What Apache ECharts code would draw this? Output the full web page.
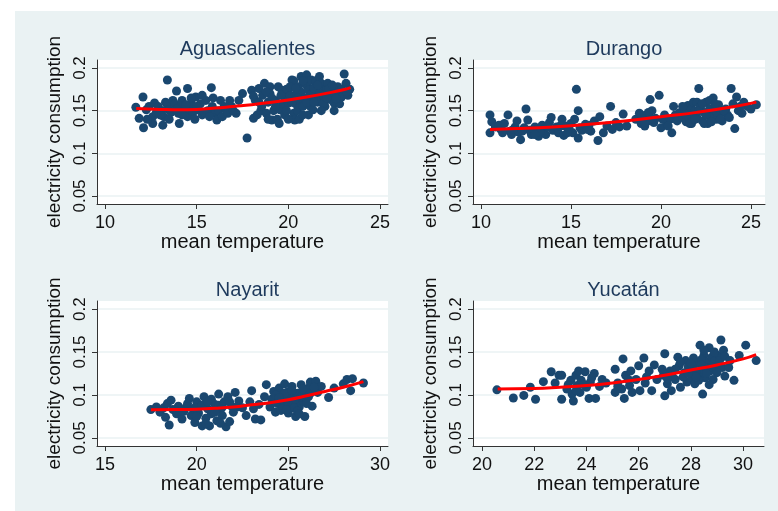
<!DOCTYPE html>
<html>
<head>
<meta charset="utf-8">
<script src="https://cdn.jsdelivr.net/npm/echarts@6/dist/echarts.min.js"></script>
<style>
html,body{margin:0;padding:0;background:#ffffff;}
#chart{width:778px;height:511px;}
</style>
</head>
<body>
<div id="chart"></div>
<script>
// ---------- DATA ----------
const panelTitles = ["Aguascalientes", "Durango", "Nayarit", "Yucatán"];
const yName = "electricity consumption";
const xName = "mean temperature";
const yTicks = [0.05, 0.1, 0.15, 0.2];
const xTicksAgs = [10, 15, 20, 25];
const xTicksDgo = [10, 15, 20, 25];
const xTicksNay = [15, 20, 25, 30];
const xTicksYuc = [20, 22, 24, 26, 28, 30];

const aguascalientesPts = [
[11.68,0.154],[11.86,0.141],[12.07,0.166],[12.1,0.130],[12.25,0.151],[12.4,0.155],[12.6,0.143],[12.6,0.135],[12.7,0.159],[12.9,0.155],
[13.1,0.150],[13.15,0.133],[13.2,0.143],[13.3,0.160],[13.4,0.186],[13.4,0.157],[13.5,0.151],[13.6,0.148],[13.7,0.162],[13.8,0.158],
[13.9,0.173],[14.0,0.147],[14.05,0.135],[14.1,0.155],[14.2,0.162],[14.3,0.150],[14.5,0.176],[14.5,0.143],[14.6,0.152],[14.7,0.159],
[14.8,0.148],[14.9,0.140],[14.95,0.166],[15.1,0.151],[15.2,0.158],[15.3,0.145],[15.5,0.162],[15.6,0.150],[15.8,0.177],[15.85,0.155],
[15.9,0.165],[16.0,0.147],[16.1,0.139],[16.2,0.150],[16.3,0.162],[16.4,0.143],[16.6,0.151],[16.8,0.162],[16.9,0.155],[17.15,0.147],
[17.5,0.170],[17.75,0.118],[18.0,0.174],[18.1,0.141],[18.2,0.162],[18.3,0.145],[18.4,0.176],[18.5,0.150],[18.55,0.155],[18.6,0.168],
[18.7,0.182],[18.8,0.147],[18.9,0.160],[19.0,0.170],[19.0,0.178],[19.1,0.139],[19.2,0.150],[19.3,0.162],[19.4,0.140],[19.45,0.178],
[19.55,0.151],[19.65,0.174],[19.7,0.158],[19.8,0.166],[19.8,0.145],[19.9,0.175],[20.0,0.159],[20.1,0.168],[20.2,0.186],[20.3,0.147],
[20.3,0.185],[20.35,0.139],[20.4,0.158],[20.45,0.170],[20.5,0.150],[20.55,0.178],[20.6,0.162],[20.6,0.140],[20.7,0.190],[20.7,0.172],
[20.8,0.155],[20.9,0.182],[20.9,0.165],[21.0,0.192],[21.0,0.180],[21.1,0.174],[21.1,0.145],[21.15,0.162],[21.2,0.155],[21.25,0.186],
[21.3,0.170],[21.35,0.151],[21.45,0.178],[21.5,0.185],[21.6,0.166],[21.6,0.160],[21.7,0.190],[21.8,0.174],[21.8,0.182],[21.9,0.168],
[22.0,0.162],[22.0,0.155],[22.1,0.176],[22.15,0.182],[22.3,0.163],[22.35,0.170],[22.5,0.159],[22.6,0.172],[22.7,0.178],[22.8,0.158],
[22.9,0.166],[23.05,0.193],[23.15,0.182],[23.25,0.168],[23.35,0.175],
[13.0,0.145],[13.5,0.140],[13.9,0.152],[14.2,0.145],[14.4,0.157],[15.0,0.155],[15.4,0.148],[15.7,0.143],[16.5,0.155],[12.8,0.148],
[12.3,0.140],[14.7,0.165],[15.3,0.168],[16.7,0.147],[17.3,0.162],[17.0,0.150],[18.1,0.167],[18.4,0.160],[18.8,0.172],[19.1,0.165],
[19.3,0.155],[19.6,0.168],[19.9,0.150],[20.1,0.178],[20.2,0.160],[20.4,0.176],[20.5,0.165],[20.8,0.185],[20.8,0.145],[21.0,0.160],
[21.2,0.168],[21.4,0.176],[21.4,0.160],[21.6,0.180],[21.7,0.170],[21.9,0.158],[22.1,0.165],[22.2,0.175],[22.4,0.180],[22.6,0.164],
[22.9,0.175],[23.2,0.172],[20.0,0.140],[19.5,0.135],[18.9,0.140],[21.8,0.150],[22.5,0.150]
];
const aguascalientesFitX = [11.7, 13, 14, 15, 16, 17, 18, 19, 20, 21, 22, 23, 23.4];
const aguascalientesFitY = [0.1525, 0.1515, 0.151, 0.1515, 0.153, 0.155, 0.157, 0.1595, 0.1625, 0.166, 0.170, 0.1745, 0.177];

const durangoPts = [
[10.5,0.145],[10.5,0.124],[10.6,0.137],[10.8,0.131],[11.0,0.133],[11.1,0.128],[11.3,0.135],[11.5,0.145],[11.6,0.126],[11.7,0.122],
[11.9,0.131],[12.0,0.138],[12.1,0.125],[12.2,0.116],[12.4,0.130],[12.5,0.152],[12.6,0.139],[12.7,0.127],[12.8,0.122],[13.0,0.131],
[13.1,0.126],[13.2,0.120],[13.4,0.133],[13.5,0.128],[13.6,0.122],[13.8,0.136],[13.9,0.142],[14.0,0.127],[14.2,0.131],[14.3,0.124],
[14.5,0.140],[14.6,0.121],[14.7,0.132],[14.9,0.128],[15.0,0.135],[15.1,0.124],[15.2,0.140],[15.3,0.175],[15.4,0.150],[15.4,0.118],
[15.5,0.130],[15.6,0.127],[15.8,0.134],[16.1,0.126],[16.3,0.138],[16.5,0.115],[16.6,0.143],[16.8,0.124],[17.0,0.132],[17.2,0.155],
[17.3,0.128],[17.5,0.136],[17.7,0.131],[17.9,0.146],[18.1,0.132],[18.6,0.140],[18.8,0.147],[18.9,0.135],[19.0,0.142],[19.1,0.132],
[19.2,0.145],[19.3,0.138],[19.4,0.163],[19.5,0.150],[19.6,0.136],[19.7,0.141],[19.9,0.168],[20.0,0.130],[20.2,0.145],[20.3,0.137],
[20.5,0.140],[20.6,0.124],[20.7,0.155],[20.8,0.145],[20.9,0.138],[21.0,0.147],[21.1,0.148],[21.2,0.142],[21.3,0.152],[21.4,0.137],
[21.5,0.156],[21.6,0.145],[21.7,0.135],[21.7,0.152],[21.8,0.160],[21.9,0.150],[22.0,0.142],[22.0,0.160],[22.1,0.176],[22.2,0.155],
[22.3,0.138],[22.4,0.148],[22.5,0.160],[22.6,0.135],[22.6,0.145],[22.7,0.152],[22.8,0.143],[22.9,0.165],[23.0,0.150],[23.1,0.140],
[23.2,0.157],[23.3,0.147],[23.4,0.138],[23.6,0.152],[23.7,0.145],[23.9,0.176],[24.0,0.158],[24.1,0.129],[24.2,0.166],[24.3,0.150],
[24.5,0.147],[24.8,0.155],[25.0,0.152],[25.3,0.157],
[21.2,0.155],[21.4,0.145],[21.6,0.135],[21.9,0.140],[22.1,0.150],[22.3,0.158],[22.4,0.135],[22.5,0.145],[22.7,0.162],[22.8,0.137],
[23.0,0.158],[23.1,0.148],[23.3,0.140],[23.5,0.150],[23.8,0.142],[24.4,0.155],[24.6,0.160],[19.3,0.148],[19.5,0.140],[19.1,0.137],
[18.9,0.145],[20.1,0.140],[20.4,0.132],[11.2,0.124],[12.3,0.126],[12.9,0.128],[13.3,0.126],[13.7,0.131],[14.4,0.132],[14.8,0.124],
[16.0,0.133],[15.9,0.128],[11.8,0.128],[13.0,0.122]
];
const durangoFitX = [10.5, 12, 14, 16, 18, 20, 22, 24, 25.3];
const durangoFitY = [0.128, 0.129, 0.131, 0.134, 0.138, 0.143, 0.148, 0.1545, 0.160];

const nayaritPts = [
[17.5,0.083],[17.8,0.086],[18.0,0.080],[18.2,0.085],[18.3,0.074],[18.4,0.090],[18.5,0.065],[18.6,0.094],[18.7,0.083],[18.9,0.078],
[19.0,0.087],[19.2,0.072],[19.3,0.081],[19.4,0.085],[19.5,0.090],[19.6,0.096],[19.7,0.076],[19.8,0.084],[19.9,0.068],[20.0,0.092],
[20.1,0.079],[20.2,0.087],[20.3,0.064],[20.4,0.098],[20.5,0.073],[20.6,0.084],[20.7,0.064],[20.8,0.095],[20.8,0.078],[20.9,0.080],
[21.0,0.089],[21.1,0.070],[21.2,0.101],[21.2,0.088],[21.3,0.083],[21.4,0.076],[21.5,0.092],[21.6,0.063],[21.7,0.098],[21.8,0.069],
[21.9,0.087],[22.0,0.080],[22.1,0.103],[22.3,0.093],[22.5,0.085],[22.7,0.076],[22.9,0.092],[23.0,0.105],[23.1,0.084],[23.2,0.072],
[23.4,0.089],[23.5,0.071],[23.7,0.098],[23.8,0.112],[24.0,0.086],[24.1,0.095],[24.2,0.104],[24.2,0.095],[24.3,0.080],[24.4,0.090],
[24.5,0.108],[24.6,0.099],[24.6,0.082],[24.7,0.085],[24.8,0.113],[24.9,0.093],[25.0,0.079],[25.0,0.104],[25.1,0.088],[25.1,0.098],
[25.2,0.110],[25.3,0.097],[25.4,0.075],[25.4,0.092],[25.5,0.102],[25.6,0.086],[25.7,0.112],[25.8,0.093],[25.9,0.075],[25.9,0.100],
[26.0,0.106],[26.1,0.098],[26.1,0.108],[26.2,0.115],[26.3,0.087],[26.5,0.116],[26.6,0.103],[26.8,0.110],[27.2,0.097],[27.5,0.108],
[28.0,0.113],[28.2,0.118],[28.4,0.105],[28.5,0.119],[29.1,0.114],
[19.1,0.081],[19.9,0.085],[20.3,0.088],[20.6,0.092],[21.0,0.080],[21.4,0.086],[21.8,0.092],[22.2,0.086],[20.0,0.075],[20.5,0.067],
[21.3,0.067],[24.3,0.100],[24.7,0.094],[25.0,0.090],[25.3,0.085],[25.5,0.081],[25.7,0.098],[25.8,0.107],[26.0,0.090],[26.2,0.102],
[26.4,0.109],[24.8,0.102],[25.2,0.105],[24.9,0.083],[25.6,0.078],[24.5,0.097]
];
const nayaritFitX = [17.5, 19, 20, 21, 22, 23, 24, 25, 26, 27, 28, 29.1];
const nayaritFitY = [0.0828, 0.083, 0.0835, 0.0845, 0.086, 0.0885, 0.091, 0.0945, 0.099, 0.104, 0.109, 0.1156];

const yucatanPts = [
[20.57,0.106],[21.2,0.0965],[21.6,0.0995],[21.85,0.109],[22.05,0.095],[22.35,0.1155],[22.65,0.127],[22.8,0.114],[22.95,0.123],[23.05,0.123],
[23.05,0.095],[23.25,0.107],[23.4,0.117],[23.45,0.101],[23.5,0.093],[23.6,0.123],[23.65,0.111],[23.7,0.128],[23.75,0.103],[23.8,0.117],
[23.95,0.127],[24.0,0.109],[24.1,0.096],[24.15,0.115],[24.3,0.125],[24.35,0.096],[24.5,0.110],[24.6,0.118],[24.75,0.114],[25.1,0.130],
[25.1,0.103],[25.2,0.114],[25.35,0.107],[25.4,0.142],[25.45,0.096],[25.5,0.123],[25.65,0.111],[25.7,0.128],[25.75,0.103],[25.9,0.118],
[26.0,0.134],[26.05,0.105],[26.2,0.143],[26.25,0.114],[26.4,0.128],[26.5,0.105],[26.6,0.135],[26.7,0.118],[26.95,0.123],[27.0,0.148],
[27.0,0.099],[27.1,0.113],[27.2,0.128],[27.25,0.105],[27.4,0.118],[27.5,0.144],[27.55,0.134],[27.6,0.109],[27.75,0.126],[27.8,0.140],
[27.85,0.115],[28.0,0.130],[28.05,0.120],[28.1,0.134],[28.15,0.113],[28.25,0.138],[28.3,0.124],[28.35,0.158],[28.45,0.130],[28.45,0.101],
[28.5,0.146],[28.55,0.120],[28.6,0.138],[28.7,0.155],[28.75,0.128],[28.8,0.144],[28.85,0.118],[28.95,0.134],[29.05,0.146],[29.15,0.164],
[29.2,0.132],[29.25,0.152],[29.3,0.122],[29.45,0.132],[29.65,0.117],[29.85,0.146],[30.1,0.158],[30.5,0.140],
[27.3,0.121],[27.9,0.133],[28.2,0.127],[28.4,0.141],[28.6,0.131],[28.9,0.139],[29.0,0.126],[28.3,0.117],[27.7,0.121],[28.1,0.143],
[28.0,0.137],[28.2,0.121],[28.4,0.135],[28.6,0.125],[28.8,0.133],[29.1,0.140],[29.3,0.145],[28.5,0.152],[28.9,0.150],[27.9,0.125],
[27.4,0.130],[27.1,0.119],[26.9,0.130],[23.9,0.112],[23.6,0.105],[24.2,0.120],[23.3,0.112],[25.6,0.118],[26.3,0.121],[25.2,0.110],
[28.7,0.112],[29.5,0.140],[27.6,0.138]
];
const yucatanFitX = [20.6, 22, 23, 24, 25, 26, 27, 28, 29, 30, 30.5];
const yucatanFitY = [0.107, 0.1075, 0.109, 0.111, 0.114, 0.118, 0.123, 0.129, 0.135, 0.142, 0.147];

// ---------- LAYOUT ----------
const navy = '#1a476f';
const bg = '#eaf2f3';
const panels = [
  {title: panelTitles[0], pts: aguascalientesPts, fx: aguascalientesFitX, fy: aguascalientesFitY, ticks: xTicksAgs,
   grid: {left: 97, top: 60, width: 291, height: 144}, xmin: 9.56, xmax: 25.44, titleTop: 34},
  {title: panelTitles[1], pts: durangoPts, fx: durangoFitX, fy: durangoFitY, ticks: xTicksDgo,
   grid: {left: 473, top: 60, width: 292, height: 144}, xmin: 9.556, xmax: 25.78, titleTop: 34},
  {title: panelTitles[2], pts: nayaritPts, fx: nayaritFitX, fy: nayaritFitY, ticks: xTicksNay,
   grid: {left: 97, top: 301, width: 291, height: 145}, xmin: 14.56, xmax: 30.44, titleTop: 275},
  {title: panelTitles[3], pts: yucatanPts, fx: yucatanFitX, fy: yucatanFitY, ticks: xTicksYuc,
   grid: {left: 473, top: 301, width: 291, height: 145}, xmin: 19.655, xmax: 30.8, titleTop: 275}
];

const fontFam = '"Liberation Sans", Arial, sans-serif';
const option = {
  animation: false,
  backgroundColor: '#ffffff',
  graphic: [{type: 'rect', shape: {x: 15, y: 11, width: 763, height: 500}, style: {fill: bg}, z: -10, silent: true}],
  title: [], grid: [], xAxis: [], yAxis: [], series: []
};

panels.forEach((p, i) => {
  option.title.push({
    text: p.title, left: p.grid.left + p.grid.width / 2, top: p.titleTop, textAlign: 'center',
    textStyle: {fontFamily: fontFam, fontSize: 20, fontWeight: 'normal', color: '#1e3a5c'}
  });
  option.grid.push(Object.assign({show: true, backgroundColor: '#ffffff', borderWidth: 0, containLabel: false}, p.grid));
  option.xAxis.push({
    type: 'value', gridIndex: i, min: p.xmin, max: p.xmax,
    name: xName, nameLocation: 'middle', nameGap: 27,
    nameTextStyle: {fontFamily: fontFam, fontSize: 20, color: '#111'},
    axisLine: {show: true, onZero: false, lineStyle: {color: '#333', width: 1}},
    axisTick: {show: true, inside: false, length: 5, customValues: p.ticks, lineStyle: {color: '#333'}},
    axisLabel: {customValues: p.ticks, fontFamily: fontFam, fontSize: 18, color: '#111', margin: 10},
    splitLine: {show: false}
  });
  option.yAxis.push({
    type: 'value', gridIndex: i, min: 0.0406, max: 0.2094,
    name: yName, nameLocation: 'middle', nameGap: 33,
    nameTextStyle: {fontFamily: fontFam, fontSize: 19, color: '#111'},
    axisLine: {show: true, onZero: false, lineStyle: {color: '#333', width: 1}},
    axisTick: {show: true, inside: false, length: 5, customValues: yTicks, lineStyle: {color: '#333'}},
    axisLabel: {customValues: yTicks, rotate: 90, fontFamily: fontFam, fontSize: 17, color: '#111', margin: 8},
    splitLine: {show: true, lineStyle: {color: bg, width: 1.5}}
  });
  option.series.push({
    type: 'scatter', xAxisIndex: i, yAxisIndex: i, data: p.pts,
    symbol: 'circle', symbolSize: 9, itemStyle: {color: navy, opacity: 1}, z: 2
  });
  option.series.push({
    type: 'line', xAxisIndex: i, yAxisIndex: i, data: p.fx.map((x, k) => [x, p.fy[k]]),
    smooth: true, showSymbol: false, symbol: 'none', lineStyle: {color: '#ff0000', width: 3}, z: 3
  });
});

const chart = echarts.init(document.getElementById('chart'), null, {renderer: 'canvas'});
chart.setOption(option);
</script>
</body>
</html>
